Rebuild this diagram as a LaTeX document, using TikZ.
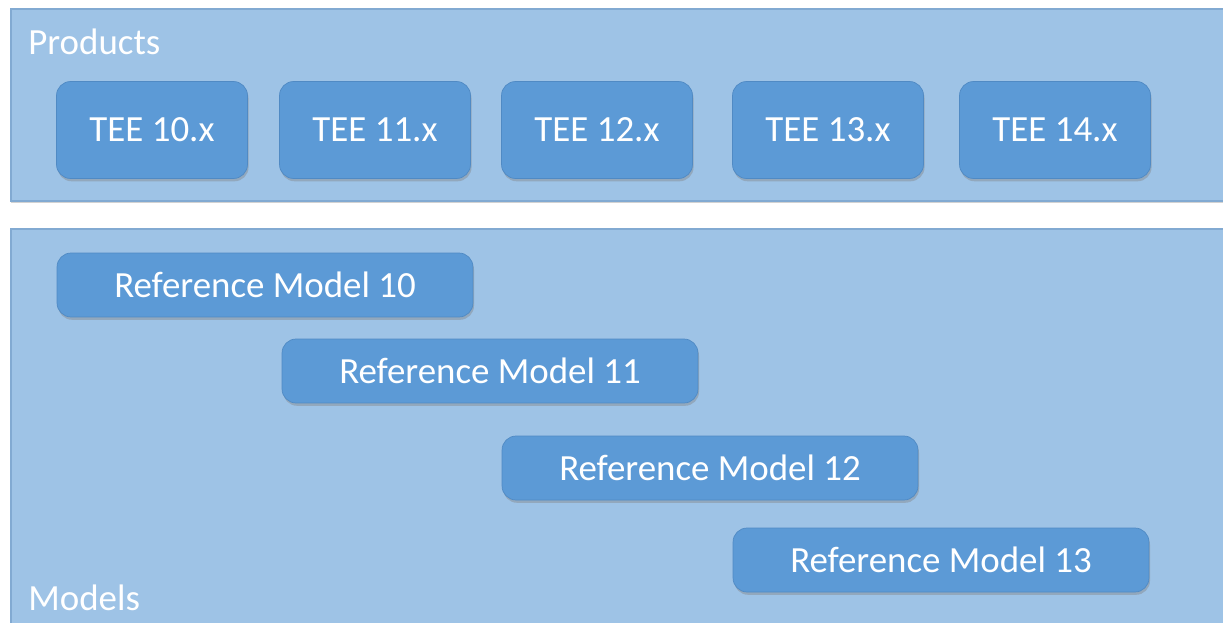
\documentclass[tikz,border=0pt]{standalone}
\usepackage{fontspec}
\setmainfont{Carlito}
\usetikzlibrary{positioning,shadows}
\definecolor{panelfill}{RGB}{158,195,230}
\definecolor{paneldraw}{RGB}{130,170,210}
\definecolor{boxfill}{RGB}{92,154,214}
\definecolor{boxdraw}{RGB}{80,138,196}
\tikzset{
  panel/.style={rectangle,draw=paneldraw,fill=panelfill,line width=1pt,anchor=north west,inner sep=0pt,
    drop shadow={shadow xshift=0pt,shadow yshift=-1.2pt,opacity=0.35}},
  prodbox/.style={rectangle,rounded corners=8pt,draw=boxdraw,fill=boxfill,minimum width=3.82cm,
    minimum height=1.94cm,text=white,font=\fontsize{21}{25}\selectfont,
    drop shadow={shadow xshift=0.6pt,shadow yshift=-1.6pt,opacity=0.4}},
  modelbox/.style={prodbox,minimum width=8.32cm,minimum height=1.28cm},
  paneltitle/.style={anchor=west,inner sep=0pt,text=white,font=\fontsize{21}{25}\selectfont},
}
\begin{document}
\begin{tikzpicture}[x=0.02cm,y=-0.02cm]
  \useasboundingbox (0,0) rectangle (1223,622);
  \clip (0,0) rectangle (1223,622);
  \fill[white] (0,0) rectangle (1223,622);
  % panels
  \node[panel,minimum width=24.5cm,minimum height=3.84cm] (products) at (10,8) {};
  \node[panel,minimum width=24.5cm,minimum height=8.2cm] (models) at (10,228) {};
  \node[paneltitle] (prodlab) at (28,42) {Products};
  \node[paneltitle] (modlab) at (28,598) {Models};
  % products
  \foreach \x/\v in {152/10,375/11,597/12,828/13,1055/14}
    \node[prodbox] (tee\v) at (\x,130) {TEE \v.x};
  % models
  \node[modelbox] (rm10) at (265,285) {Reference Model 10};
  \node[modelbox] (rm11) at (490,371) {Reference Model 11};
  \node[modelbox] (rm12) at (710,468) {Reference Model 12};
  \node[modelbox] (rm13) at (941,560) {Reference Model 13};
\end{tikzpicture}
\end{document}
